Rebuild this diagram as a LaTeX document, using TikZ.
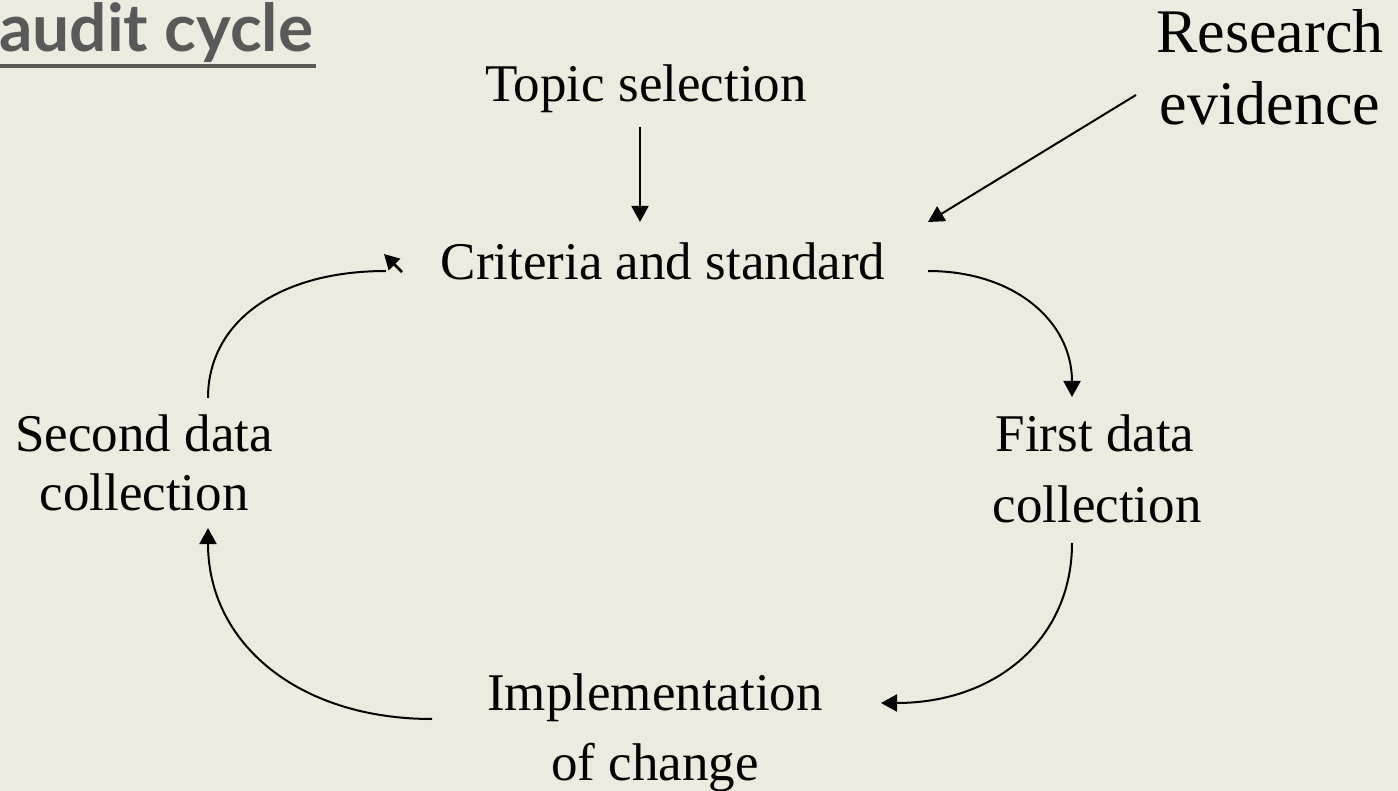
\documentclass[tikz,border=0pt]{standalone}
\usepackage{fontspec}
\setmainfont{Liberation Serif}
\newfontfamily\titlefont{Lato}
\usetikzlibrary{arrows.meta}
\definecolor{bgcol}{RGB}{237,235,224}
\definecolor{titlegray}{RGB}{89,89,89}
\begin{document}
\begin{tikzpicture}[x=1pt,y=-1pt,
  lbl/.style={inner sep=0pt,anchor=base,font=\fontsize{53}{60}\selectfont},
  biglbl/.style={inner sep=0pt,anchor=base,font=\fontsize{62}{70}\selectfont},
  conn/.style={line width=2pt,-{Triangle[length=16pt,width=17pt]}},
  plain/.style={line width=2pt}]
\fill[bgcol] (0,0) rectangle (1398,791);
\useasboundingbox (0,0) rectangle (1398,791);
% title
\node[inner sep=0pt,anchor=base west,text=titlegray,font=\titlefont\bfseries] (title) at (-1,52)
  {\resizebox{314pt}{!}{audit cycle}};
\draw[titlegray,line width=4pt] (0,66) -- (316,66);
% labels
\node[lbl] (topic) at (646,102) {Topic selection};
\node[lbl] (crit) at (663,280) {Criteria and standard};
\node[biglbl] (res1) at (1270,53) {Research};
\node[biglbl] (res2) at (1270,125) {evidence};
\node[lbl] (first1) at (1095,452) {First data};
\node[lbl] (first2) at (1097,522) {collection};
\node[lbl] (second1) at (144,452) {Second data};
\node[lbl] (second2) at (144,510) {collection};
\node[lbl] (impl1) at (655,710) {Implementation};
\node[lbl] (impl2) at (655,780) {of change};
% connector end points
\coordinate (topicS) at (640,127);
\coordinate (critN) at (640,222);
\coordinate (resS) at (1136,95);
\coordinate (critNE) at (928,222);
\coordinate (critE) at (928,271);
\coordinate (firstN) at (1072,397);
\coordinate (firstS) at (1072,543);
\coordinate (implE) at (881,703);
\coordinate (implW) at (432,719);
\coordinate (secondS) at (208,528);
\coordinate (secondN) at (208,398);
\coordinate (critW) at (386,271);
\coordinate (headA) at (402,272);
\coordinate (headB) at (384,254);
% connectors
\draw[conn] (topicS) -- (critN);
\draw[conn] (resS) -- (critNE);
\draw[conn] (critE) .. controls (1014,271) and (1072,321) .. (firstN);
\draw[conn] (firstS) .. controls (1072,639) and (996,703) .. (implE);
\draw[conn] (implW) .. controls (298,719) and (208,643) .. (secondS);
\draw[plain] (secondN) .. controls (208,322) and (278,271) .. (critW);
\draw[line width=2.5pt,-{Triangle[length=15pt,width=16pt]}] (headA) -- (headB);
\end{tikzpicture}
\end{document}
